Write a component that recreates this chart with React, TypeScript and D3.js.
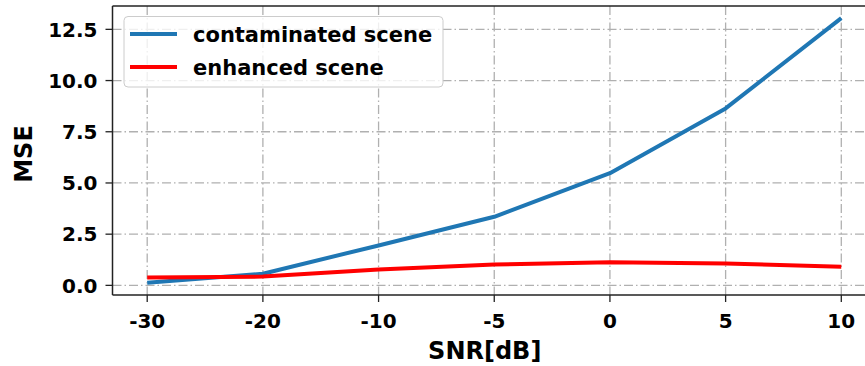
import * as d3 from 'd3';

const snrLabels = ['-30', '-20', '-10', '-5', '0', '5', '10'];
const contaminated = [0.13, 0.57, 1.95, 3.35, 5.48, 8.64, 13.05];
const enhanced = [0.38, 0.43, 0.77, 1.02, 1.13, 1.07, 0.91];
const yTicks = [0, 2.5, 5, 7.5, 10, 12.5];
const seriesNames = ['contaminated scene', 'enhanced scene'];
const seriesColors = ['#1f77b4', '#ff0000'];

const W = 865;
const H = 366;
const font = 'DejaVu Sans, sans-serif';

function App() {
    // axes box, right edge runs past the picture
    const left = 112.5, top = 6, bottom = 295, right = 876;

    const x = d3.scaleLinear().domain([-0.3, snrLabels.length - 0.7]).range([left, right]);
    const y = d3.scaleLinear().domain([-0.47, 13.64]).range([bottom, top]);

    const line = d3.line<number>()
        .x((_, i) => x(i))
        .y(d => y(d));

    const gridStyle = { stroke: '#b0b0b0', strokeWidth: 1.3, strokeDasharray: '9,3,1.5,3' };

    return (
        <svg width={W} height={H} style={{ position: 'absolute', left: 0, top: 0, background: '#fff' }}>
            {/* grid */}
            {snrLabels.map((_, i) => (
                <line key={'gx' + i} x1={x(i)} x2={x(i)} y1={top} y2={bottom} {...gridStyle} />
            ))}
            {yTicks.map(t => (
                <line key={'gy' + t} x1={left} x2={W} y1={y(t)} y2={y(t)} {...gridStyle} />
            ))}

            {/* series */}
            {[contaminated, enhanced].map((s, k) => (
                <path key={k} d={line(s) || ''} fill="none" stroke={seriesColors[k]} strokeWidth={4} strokeLinejoin="round" />
            ))}

            {/* spines */}
            <line x1={left} x2={left} y1={top} y2={bottom} stroke="#222" strokeWidth={1.5} />
            <line x1={left} x2={W} y1={bottom} y2={bottom} stroke="#222" strokeWidth={1.5} />
            <line x1={left} x2={W} y1={top} y2={top} stroke="#222" strokeWidth={1.5} />

            {/* y ticks */}
            {yTicks.map(t => (
                <g key={'ty' + t}>
                    <line x1={left - 7} x2={left} y1={y(t)} y2={y(t)} stroke="#222" strokeWidth={1.3} />
                    <text x={left - 15} y={y(t)} dy="0.36em" textAnchor="end" fontFamily={font} fontWeight="bold" fontSize={20}>
                        {d3.format('.1f')(t)}
                    </text>
                </g>
            ))}

            {/* x ticks */}
            {snrLabels.map((lab, i) => (
                <g key={'tx' + i}>
                    <line x1={x(i)} x2={x(i)} y1={bottom} y2={bottom + 7} stroke="#222" strokeWidth={1.3} />
                    <text x={x(i)} y={328} textAnchor="middle" fontFamily={font} fontWeight="bold" fontSize={20}>{lab}</text>
                </g>
            ))}

            {/* axis labels */}
            <text x={(left + 865) / 2 - 4} y={359} textAnchor="middle" fontFamily={font} fontWeight="bold" fontSize={24}>SNR[dB]</text>
            <text transform="translate(32,154) rotate(-90)" textAnchor="middle" fontFamily={font} fontWeight="bold" fontSize={24}>MSE</text>

            {/* legend */}
            <rect x={124} y={16.5} width={319} height={70.5} rx={4} fill="#fff" fillOpacity={0.8} stroke="#cccccc" strokeWidth={1} />
            {seriesNames.map((name, k) => (
                <g key={name}>
                    <line x1={130} x2={177} y1={34 + k * 33} y2={34 + k * 33} stroke={seriesColors[k]} strokeWidth={4} />
                    <text x={193} y={34 + k * 33} dy="0.36em" fontFamily={font} fontWeight="bold" fontSize={21}>{name}</text>
                </g>
            ))}
        </svg>
    );
}

export default App;
